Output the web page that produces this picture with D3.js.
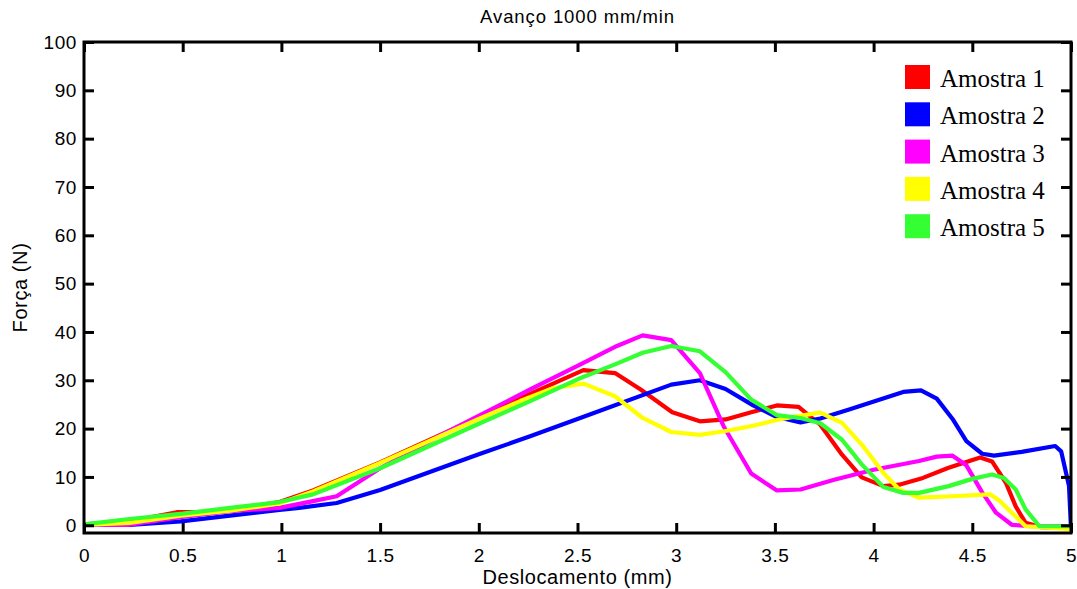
<!DOCTYPE html>
<html>
<head>
<meta charset="utf-8">
<script src="https://cdn.jsdelivr.net/npm/d3@7"></script>
<style>
  body { margin: 0; background: #fff; }
  svg { display: block; }
</style>
</head>
<body>
<script>
// dados (Deslocamento mm -> Força N)
const amostra1X = [0, 0.23, 0.47, 0.6, 0.74, 0.99, 1.16, 1.5, 2.0, 2.26, 2.53, 2.69, 2.82, 2.98, 3.12, 3.25, 3.38, 3.51, 3.62, 3.73, 3.84, 3.94, 4.05, 4.13, 4.25, 4.38, 4.54, 4.6, 4.67, 4.72, 4.77, 4.85, 5.0]
const amostra1Y = [0.2, 0.8, 2.7, 2.7, 3.2, 4.8, 7.2, 13.0, 22.3, 27.2, 32.1, 31.5, 28.1, 23.4, 21.5, 21.9, 23.4, 24.8, 24.5, 20.8, 14.6, 9.9, 8.1, 8.4, 9.8, 11.9, 14.0, 13.2, 8.8, 3.9, 0.5, -0.4, -0.6]

const amostra2X = [0, 0.23, 0.49, 0.74, 0.99, 1.09, 1.28, 1.5, 2.0, 2.26, 2.5, 2.975, 3.12, 3.25, 3.39, 3.51, 3.63, 3.73, 3.88, 4.15, 4.24, 4.32, 4.4, 4.47, 4.55, 4.61, 4.75, 4.92, 4.95, 4.99, 5.0]
const amostra2Y = [0.2, 0.1, 0.8, 2.0, 3.2, 3.6, 4.6, 7.3, 14.7, 18.4, 22.0, 29.1, 30.0, 28.2, 24.8, 22.4, 21.3, 22.1, 24.0, 27.6, 27.9, 26.2, 22.0, 17.4, 14.8, 14.4, 15.2, 16.4, 15.3, 8.1, -0.6]

const amostra3X = [0, 0.23, 0.49, 0.74, 0.99, 1.16, 1.28, 1.5, 1.8, 2.26, 2.5, 2.70, 2.83, 2.975, 3.12, 3.24, 3.38, 3.51, 3.63, 3.8, 4.0, 4.23, 4.32, 4.40, 4.47, 4.55, 4.62, 4.70, 4.8, 5.0]
const amostra3Y = [0.1, 0.1, 1.7, 2.9, 3.6, 5.0, 6.0, 11.8, 18.5, 28.1, 33.0, 37.1, 39.3, 38.3, 31.5, 20.5, 10.7, 7.2, 7.4, 9.4, 11.5, 13.3, 14.2, 14.4, 12.4, 6.8, 2.6, 0.1, -0.2, -0.2]

const amostra4X = [0, 0.23, 0.49, 0.74, 0.99, 1.16, 1.5, 2.0, 2.21, 2.38, 2.53, 2.69, 2.83, 2.975, 3.12, 3.25, 3.39, 3.52, 3.62, 3.73, 3.84, 3.94, 4.05, 4.13, 4.23, 4.4, 4.59, 4.64, 4.70, 4.77, 5.0]
const amostra4Y = [0.1, 0.5, 2.0, 3.0, 4.5, 7.0, 12.9, 22.0, 25.7, 28.4, 29.3, 26.7, 22.2, 19.3, 18.7, 19.5, 20.6, 21.9, 22.6, 23.3, 21.2, 16.7, 10.8, 7.4, 5.7, 6.0, 6.4, 5.0, 2.6, -0.2, -0.8]

const amostra5X = [0, 0.23, 0.5, 0.74, 0.99, 1.16, 1.5, 2.0, 2.26, 2.5, 2.69, 2.83, 2.975, 3.12, 3.25, 3.38, 3.51, 3.63, 3.73, 3.84, 3.94, 4.05, 4.15, 4.23, 4.38, 4.5, 4.60, 4.66, 4.72, 4.77, 4.84, 5.0]
const amostra5Y = [0.2, 1.3, 2.4, 3.6, 4.8, 6.4, 11.8, 21.0, 25.7, 30.2, 33.3, 35.7, 37.1, 36.0, 31.7, 26.0, 22.8, 22.2, 21.1, 17.7, 12.6, 7.9, 6.7, 6.7, 8.1, 9.6, 10.5, 9.8, 7.4, 3.3, -0.2, -0.2]

const nomes = ['Amostra 1', 'Amostra 2', 'Amostra 3', 'Amostra 4', 'Amostra 5']
const cores = ['#ff0000', '#0000ff', '#ff00ff', '#ffff00', '#33ff33']
const xTicks = [0, 0.5, 1, 1.5, 2, 2.5, 3, 3.5, 4, 4.5, 5]
const yTicks = [0, 10, 20, 30, 40, 50, 60, 70, 80, 90, 100]

const series = [
    [amostra1X, amostra1Y],
    [amostra2X, amostra2Y],
    [amostra3X, amostra3Y],
    [amostra4X, amostra4Y],
    [amostra5X, amostra5Y]
].map(([xs, ys], i) => ({ nome: nomes[i], cor: cores[i], pts: xs.map((x, j) => [x, ys[j]]) }))

const W = 1077, H = 589
const margin = { top: 42, right: 6, bottom: 56, left: 84 }
const iw = W - margin.left - margin.right
const ih = H - margin.top - margin.bottom
const sans = 'Liberation Sans, Arial, sans-serif'

const svg = d3.select('body').append('svg').attr('width', W).attr('height', H)
const g = svg.append('g').attr('transform', `translate(${margin.left},${margin.top})`)

const x = d3.scaleLinear().domain([0, 5]).range([0, iw])
const y = d3.scaleLinear().domain([-1.6, 100]).range([ih, 0])

svg.append('defs').append('clipPath').attr('id', 'clip')
    .append('rect').attr('x', 0).attr('y', 0).attr('width', iw).attr('height', ih)

const line = d3.line().x(d => x(d[0])).y(d => y(d[1]))

g.append('g').attr('clip-path', 'url(#clip)')
    .selectAll('path').data(series).enter().append('path')
    .attr('d', d => line(d.pts))
    .attr('fill', 'none')
    .attr('stroke', d => d.cor)
    .attr('stroke-width', 4.2)
    .attr('stroke-linejoin', 'round')

// eixos (ticks para dentro, também em cima e à direita)
const tickFont = g => g.selectAll('text').attr('font-family', sans).attr('font-size', 19)
    .attr('letter-spacing', 0.6).attr('fill', '#000')
const styleAxis = a => {
    a.select('.domain').remove()
    a.selectAll('line').attr('stroke', '#000').attr('stroke-width', 3)
}

g.append('g').attr('transform', `translate(0,${ih})`)
    .call(d3.axisBottom(x).tickValues(xTicks).tickSize(-10).tickPadding(16).tickFormat(d3.format('')))
    .call(styleAxis).call(tickFont)
g.append('g')
    .call(d3.axisTop(x).tickValues(xTicks).tickSize(-10).tickFormat(''))
    .call(styleAxis)
g.append('g')
    .call(d3.axisLeft(y).tickValues(yTicks).tickSize(-10).tickPadding(7))
    .call(styleAxis).call(tickFont)
g.append('g').attr('transform', `translate(${iw},0)`)
    .call(d3.axisRight(y).tickValues(yTicks).tickSize(-10).tickFormat(''))
    .call(styleAxis)

g.append('rect').attr('x', 0).attr('y', 0).attr('width', iw).attr('height', ih)
    .attr('fill', 'none').attr('stroke', '#000').attr('stroke-width', 3)

// textos
svg.append('text').attr('x', margin.left + iw / 2).attr('y', 23)
    .attr('text-anchor', 'middle').attr('font-family', sans).attr('font-size', 18.5)
    .attr('letter-spacing', 0.9).text('Avanço 1000 mm/min')
svg.append('text').attr('x', margin.left + iw / 2).attr('y', 584)
    .attr('text-anchor', 'middle').attr('font-family', sans).attr('font-size', 20)
    .attr('letter-spacing', 0.6).text('Deslocamento (mm)')
svg.append('text').attr('transform', `translate(27,${margin.top + ih / 2}) rotate(-90)`)
    .attr('text-anchor', 'middle').attr('font-family', sans).attr('font-size', 20)
    .attr('letter-spacing', 0.6).text('Força (N)')

// legenda
const leg = svg.append('g').attr('transform', 'translate(905,65)')
const item = leg.selectAll('g').data(series).enter().append('g')
    .attr('transform', (d, i) => `translate(0,${i * 37.3})`)
item.append('rect').attr('width', 25).attr('height', 24).attr('fill', d => d.cor)
item.append('text').attr('x', 35).attr('y', 22)
    .attr('font-family', 'Liberation Serif, Times New Roman, serif').attr('font-size', 25)
    .text(d => d.nome)
</script>
</body>
</html>
